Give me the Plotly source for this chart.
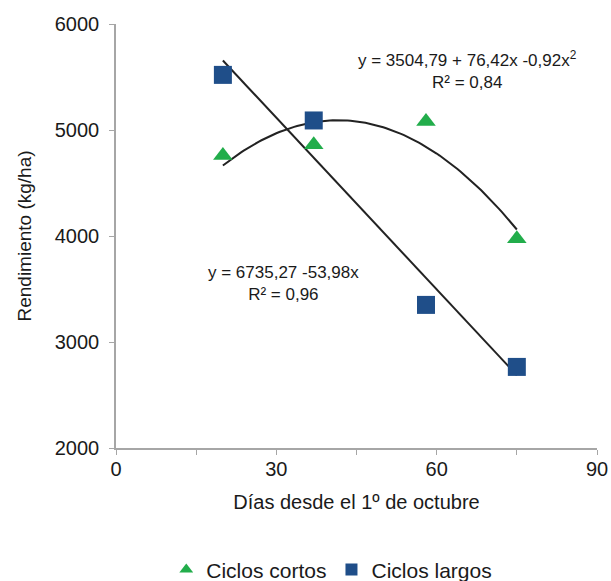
import numpy as np
import plotly.graph_objects as go

# Data
dias = [20, 37, 58, 75]
cortos = [4760, 4860, 5080, 3975]
largos = [5520, 5090, 3350, 2765]

# Fitted trend coefficients shown on chart
quad_coef = [3504.79, 76.42, -0.92]   # a + b x + c x^2 (Ciclos cortos)
lin_coef = [6735.27, -53.98]          # a + b x (Ciclos largos)

eq_quad = "y = 3504,79 + 76,42x -0,92x<sup>2</sup>"
r2_quad = "R² = 0,84"
eq_lin = "y = 6735,27 -53,98x"
r2_lin = "R² = 0,96"

xs = np.linspace(min(dias), max(dias), 100)
y_quad = quad_coef[0] + quad_coef[1] * xs + quad_coef[2] * xs ** 2
y_lin = lin_coef[0] + lin_coef[1] * xs

FONT = "Liberation Sans, Arial, sans-serif"
TXT = "#1a1a1a"
green = "#22AD4B"
blue = "#1F4E89"

fig = go.Figure()
fig.add_trace(go.Scatter(x=xs, y=y_quad, mode="lines", line=dict(color="#222222", width=2),
                         showlegend=False, hoverinfo="skip"))
fig.add_trace(go.Scatter(x=xs, y=y_lin, mode="lines", line=dict(color="#222222", width=2),
                         showlegend=False, hoverinfo="skip"))
fig.add_trace(go.Scatter(x=dias, y=cortos, mode="markers", name="Ciclos cortos",
                         marker=dict(symbol="triangle-up", size=17, color=green)))
fig.add_trace(go.Scatter(x=dias, y=largos, mode="markers", name="Ciclos largos",
                         marker=dict(symbol="square", size=18, color=blue)))

ann_font = dict(family=FONT, size=17, color=TXT)
fig.add_annotation(x=65.7, y=5570, text=eq_quad + "<br>" + r2_quad, showarrow=False,
                   font=ann_font, align="center")
fig.add_annotation(x=31.4, y=3556, text=eq_lin + "<br>" + r2_lin, showarrow=False,
                   font=ann_font, align="center")

axis_color = "#A6A6A6"
fig.update_layout(
    width=611, height=581,
    margin=dict(l=116, r=14, t=24, b=133),
    paper_bgcolor="white", plot_bgcolor="white",
    font=dict(family=FONT, size=20, color=TXT),
    xaxis=dict(range=[0, 90], tickvals=[0, 30, 60, 90], showgrid=False, zeroline=False,
               showline=True, linecolor=axis_color, linewidth=1.5, automargin=False,
               ticks="outside", ticklen=5, tickcolor=axis_color, ticklabelstandoff=-3,
               tickfont=dict(size=20),
               minor=dict(tickvals=[15, 45, 75], ticks="outside", ticklen=5, tickcolor=axis_color),
               title=dict(text="Días desde el 1º de octubre", font=dict(size=20), standoff=16)),
    yaxis=dict(range=[2000, 6000], tickvals=[2000, 3000, 4000, 5000, 6000], showgrid=False,
               zeroline=False, showline=True, linecolor=axis_color, linewidth=1.5, automargin=False,
               ticks="outside", ticklen=5, tickcolor=axis_color, ticklabelstandoff=6,
               tickfont=dict(size=20),
               title=dict(text="Rendimiento (kg/ha)", font=dict(size=19), standoff=18)),
    legend=dict(orientation="h", xref="container", yref="container",
                x=0.543, xanchor="center", y=0.019, yanchor="middle",
                font=dict(size=21), itemsizing="constant", tracegroupgap=0),
)

fig.write_html("out.html", config={"displayModeBar": False},
               post_script="document.body.style.margin='0';document.body.style.overflow='hidden';")
